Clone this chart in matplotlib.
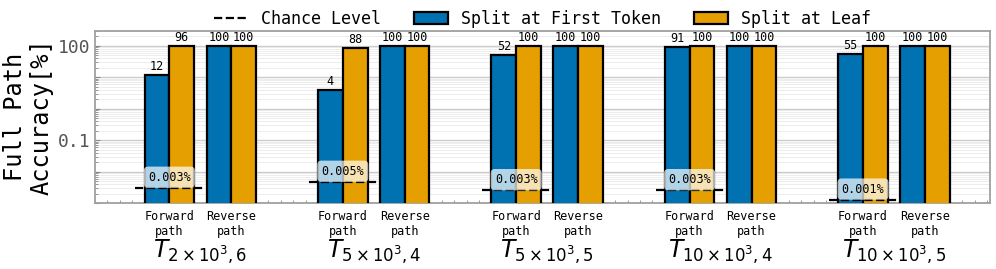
import numpy as np
import matplotlib
matplotlib.use('Agg')
import matplotlib.pyplot as plt
from matplotlib.ticker import LogLocator, FuncFormatter, MultipleLocator, NullFormatter
import matplotlib.transforms as mtransforms

plt.rcParams['font.family'] = ['DejaVu Sans Mono']

# data
groups = [r'$T_{2\times10^3,6}$', r'$T_{5\times10^3,4}$', r'$T_{5\times10^3,5}$',
          r'$T_{10\times10^3,4}$', r'$T_{10\times10^3,5}$']
path_labels = ['Forward\npath', 'Reverse\npath']
fwd_first_token = [12, 4, 52, 91, 55]
fwd_leaf = [96, 88, 100, 100, 100]
rev_first_token = [100, 100, 100, 100, 100]
rev_leaf = [100, 100, 100, 100, 100]
chance = [0.0031, 0.0048, 0.0026, 0.0026, 0.0013]

blue = '#0072B2'
orange = '#E69F00'

fig = plt.figure(figsize=(9.96, 2.69), dpi=100)
ax = fig.add_axes([0.0954, 0.245, 0.994 - 0.0954, 0.885 - 0.245])

group_gap = 2.8
bw = 0.4
fwd_x = np.arange(len(groups)) * group_gap
rev_x = fwd_x + 1.0

kw = dict(width=bw, edgecolor='black', linewidth=1.6, zorder=3)
b1 = ax.bar(fwd_x - bw / 2, fwd_first_token, color=blue, label='Split at First Token', **kw)
b2 = ax.bar(fwd_x + bw / 2, fwd_leaf, color=orange, label='Split at Leaf', **kw)
b3 = ax.bar(rev_x - bw / 2, rev_first_token, color=blue, **kw)
b4 = ax.bar(rev_x + bw / 2, rev_leaf, color=orange, **kw)

for bars in [b1, b2, b3, b4]:
    for rect in bars:
        h = rect.get_height()
        ax.annotate(f'{h:.0f}', (rect.get_x() + rect.get_width() / 2, h),
                    xytext=(0, 1.5), textcoords='offset points',
                    ha='center', va='bottom', fontsize=8.5, zorder=5)

# chance level
for i, (x, c) in enumerate(zip(fwd_x, chance)):
    ax.hlines(c, x - 0.55, x + 0.55, colors='black', linestyles='--', linewidth=1.6,
              zorder=4, label='Chance Level' if i == 0 else None)
    ax.annotate(f'{c:.3f}%', (x, c), xytext=(0, 7.5), textcoords='offset points',
                ha='center', va='center', fontsize=8.5, zorder=6,
                bbox=dict(boxstyle='round,pad=0.35', facecolor='white', edgecolor='none', alpha=0.7))

ax.set_yscale('log')
ax.set_ylim(0.001, 300)
ax.set_xlim(-1.2, 13.25)

ax.yaxis.set_major_locator(LogLocator(base=10, numticks=20))
ax.yaxis.set_major_formatter(FuncFormatter(lambda v, p: {100: '100', 0.1: '0.1'}.get(round(v, 6), '')))
ax.yaxis.set_minor_locator(LogLocator(base=10, subs=np.arange(2, 10), numticks=20))
ax.yaxis.set_minor_formatter(NullFormatter())

ticks = np.sort(np.concatenate([fwd_x, rev_x]))
ax.set_xticks(ticks)
ax.set_xticklabels(path_labels * len(groups), fontsize=8.5, linespacing=1.15)
ax.xaxis.set_minor_locator(MultipleLocator(0.2))

ax.tick_params(axis='x', which='both', direction='in', pad=5, colors='#888888', labelcolor='black')
ax.tick_params(axis='x', which='minor', length=2.5)
ax.tick_params(axis='y', which='both', direction='in', colors='#888888', labelcolor='#555555', labelsize=13)
ax.tick_params(axis='y', which='minor', length=2)

ax.grid(True, axis='y', which='major', color='#cccccc', linewidth=1.0, zorder=0)
ax.grid(True, axis='y', which='minor', color='#e6e6e6', linewidth=0.5, zorder=0)
ax.set_axisbelow(True)

for s in ax.spines.values():
    s.set_color('#a0a0a0')
    s.set_linewidth(1.3)

ax.set_ylabel('Full Path\nAccuracy[%]', fontsize=17, linespacing=1.1, labelpad=3)

trans = mtransforms.blended_transform_factory(ax.transData, ax.transAxes)
for x, g in zip(fwd_x + 0.5, groups):
    ax.text(x, -0.205, g, transform=trans, ha='center', va='top', fontsize=17)

h, l = ax.get_legend_handles_labels()
order = [l.index('Chance Level'), l.index('Split at First Token'), l.index('Split at Leaf')]
ax.legend([h[i] for i in order], [l[i] for i in order], loc='lower center',
          bbox_to_anchor=(0.5, 0.98), ncol=3, frameon=False, fontsize=12,
          handlelength=2.0, columnspacing=2.0, borderaxespad=0.0)

fig.savefig('out.png', dpi=100)
